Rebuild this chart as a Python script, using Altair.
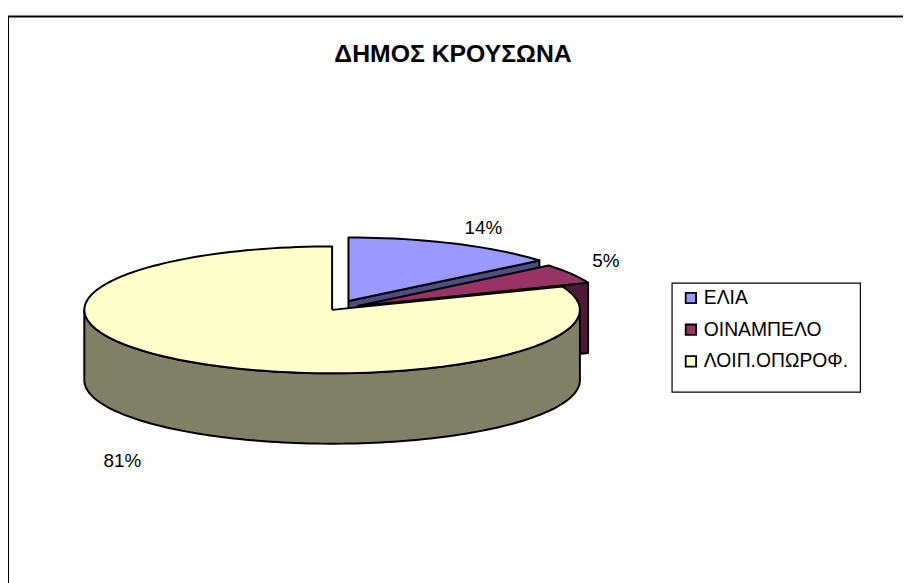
import altair as alt
import numpy as np
import pandas as pd

# ---- data ----
categories = ["ΕΛΙΑ", "ΟΙΝΑΜΠΕΛΟ", "ΛΟΙΠ.ΟΠΩΡΟΦ."]
percent = [14, 5, 81]
title_text = "ΔΗΜΟΣ ΚΡΟΥΣΩΝΑ"

# ---- styles / layout ----
top_colors = ["#9999FF", "#993366", "#FFFFCC"]
side_colors = ["#4D4D80", "#4D1A33", "#808066"]
explode = [0.155, 0.12, 0.0]
label_k = [1.1, 1.1, 1.37]
FONT = "Liberation Sans"

W, H = 903, 575          # plot area (pixel = 8 + value)
OX, OY = 8, 8
CX, CY = 335 - OX, 310 - OY
RX, RY = 250, 64
DEPTH = 71

xs = alt.Scale(domain=[0, W], nice=False, zero=False)
ys = alt.Scale(domain=[0, H], nice=False, zero=False, reverse=True)


def ell(a_deg, cx, cy, k=1.0, dz=0.0):
    a = np.radians(a_deg)
    return cx + k * RX * np.sin(a), cy - k * RY * np.cos(a) + dz


def poly_layer(pts, fill):
    df = pd.DataFrame({"x": [p[0] for p in pts], "y": [p[1] for p in pts]})
    df["o"] = range(len(df))
    return alt.Chart(df).mark_line(
        fill=fill, stroke="black", strokeWidth=2, strokeJoin="round"
    ).encode(
        x=alt.X("x:Q", scale=xs, axis=None),
        y=alt.Y("y:Q", scale=ys, axis=None),
        order=alt.Order("o:Q"),
    )


layers = []
labels = []
total = float(sum(percent))
start = 0.0
for i, v in enumerate(percent):
    a0 = start
    a1 = start + 360.0 * v / total
    start = a1
    mid = (a0 + a1) / 2
    cx, cy = ell(mid, CX, CY, explode[i])
    n = max(8, int((a1 - a0) / 2))
    arc = [ell(a, cx, cy) for a in np.linspace(a0, a1, n)]
    # radial end face (visible when end angle on right side)
    if 0 < a1 < 180:
        ox_, oy_ = ell(a1, cx, cy)
        face = [(cx, cy), (ox_, oy_), (ox_, oy_ + DEPTH), (cx, cy + DEPTH), (cx, cy)]
        layers.append(poly_layer(face, side_colors[i]))
    # front outer wall
    lo, hi = max(a0, 90.0), min(a1, 270.0)
    if hi > lo:
        angs = np.linspace(lo, hi, 120)
        topa = [ell(a, cx, cy) for a in angs]
        bota = [ell(a, cx, cy, dz=DEPTH) for a in angs[::-1]]
        wall = topa + bota + [topa[0]]
        layers.append(poly_layer(wall, side_colors[i]))
    # top face
    top = [(cx, cy)] + arc + [(cx, cy)]
    layers.append(poly_layer(top, top_colors[i]))
    # label
    lx, ly = ell(mid, cx, cy, label_k[i])
    front = np.cos(np.radians(mid)) < 0
    if front:
        ly += DEPTH
    labels.append({
        "x": lx, "y": ly, "t": f"{round(v)}%",
        "align": "left" if np.sin(np.radians(mid)) > 0 else "right",
        "base": "top" if front else "bottom",
    })

for lab in labels:
    layers.append(
        alt.Chart(pd.DataFrame([lab])).mark_text(
            font=FONT, fontSize=19, color="black",
            align=lab["align"], baseline=lab["base"]
        ).encode(x=alt.X("x:Q", scale=xs), y=alt.Y("y:Q", scale=ys), text="t:N")
    )

# title
layers.append(
    alt.Chart(pd.DataFrame({"x": [457 - OX], "y": [52 - OY], "t": [title_text]})).mark_text(
        font=FONT, fontSize=25, fontWeight="bold", color="black", baseline="middle"
    ).encode(x=alt.X("x:Q", scale=xs), y=alt.Y("y:Q", scale=ys), text="t:N")
)

# chart frame (left and top edges; right/bottom lie outside the window)
frame = pd.DataFrame({"x": [0, 0, W + 5], "y": [H + 5, 14 - OY, 14 - OY], "o": [0, 1, 2]})
layers.append(
    alt.Chart(frame).mark_line(color="black", strokeWidth=2).encode(
        x=alt.X("x:Q", scale=xs), y=alt.Y("y:Q", scale=ys), order="o:Q"
    )
)

# legend
LX0, LX1, LY0, LY1 = 678 - OX, 868 - OX, 283 - OY, 393 - OY
row_y = [298 - OY, 330 - OY, 362 - OY]
leg_box = pd.DataFrame({"x": [LX0], "x2": [LX1], "y": [LY0], "y2": [LY1]})
layers.append(
    alt.Chart(leg_box).mark_rect(fill="white", stroke="black", strokeWidth=1.2).encode(
        x=alt.X("x:Q", scale=xs), x2="x2", y=alt.Y("y:Q", scale=ys), y2="y2"
    )
)
leg = pd.DataFrame({"cat": categories, "y": row_y, "xs": [697 - OX] * 3, "xt": [710 - OX] * 3})
layers.append(
    alt.Chart(leg).mark_square(size=110, stroke="black", strokeWidth=1.8, opacity=1).encode(
        x=alt.X("xs:Q", scale=xs), y=alt.Y("y:Q", scale=ys),
        fill=alt.Fill("cat:N", scale=alt.Scale(domain=categories, range=top_colors), legend=None),
    )
)
layers.append(
    alt.Chart(leg).mark_text(font=FONT, fontSize=19.5, align="left", baseline="middle", color="black").encode(
        x=alt.X("xt:Q", scale=xs), y=alt.Y("y:Q", scale=ys), text="cat:N"
    )
)

chart = alt.layer(*layers).properties(
    width=W, height=H, padding=0, autosize=alt.AutoSizeParams(type="none"), background="white"
).configure_view(stroke=None)

chart.save("out.html", embed_options={"renderer": "svg", "actions": False})
